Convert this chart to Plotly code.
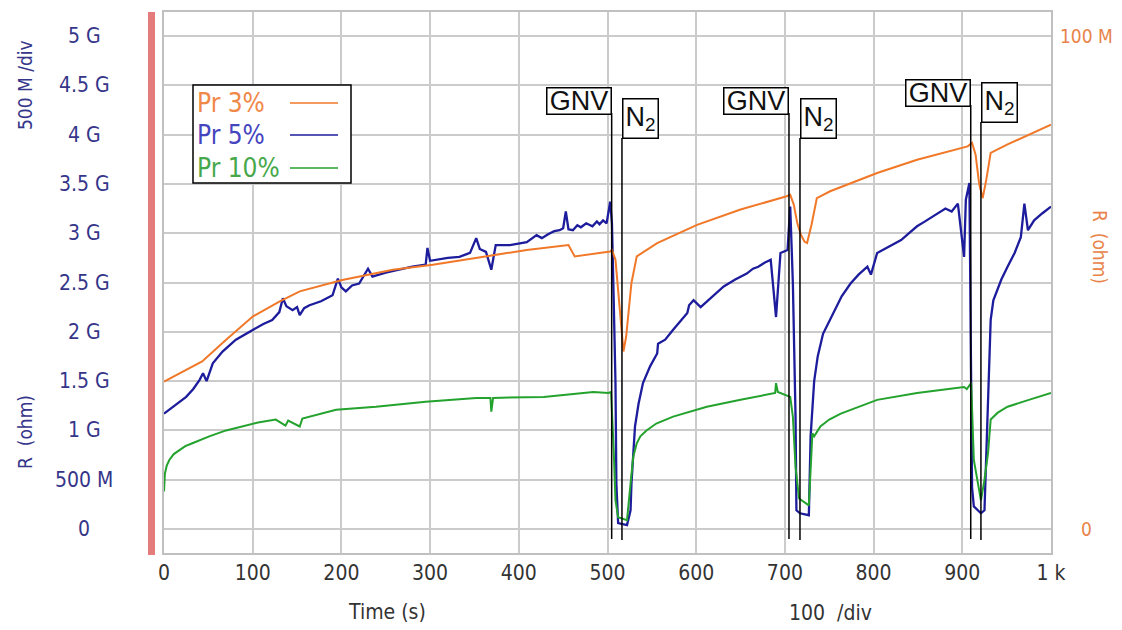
import plotly.graph_objects as go

# ---------------- data ----------------
# Pr 3% (right axis, M ohm)
t_pr3 = [0, 20, 43, 70, 100, 130, 153, 201, 258, 303, 371, 409, 456, 463, 503, 505, 509, 513,
         516, 518, 521, 527, 533, 556, 601, 650, 702, 706, 710, 714, 718, 722, 725, 730, 736,
         751, 804, 849, 906, 911, 915, 919, 923, 927, 932, 951, 1000]
r_pr3 = [29.9, 31.8, 34.0, 38.4, 43.1, 46.1, 48.2, 50.5, 52.6, 53.6, 55.6, 56.6, 57.6, 55.3,
         56.3, 56.6, 54.6, 46.5, 39.0, 36.0, 39.0, 49.9, 55.3, 58.0, 61.7, 64.8, 67.5, 67.8,
         65.8, 62.0, 59.7, 58.3, 58.0, 61.7, 67.1, 68.5, 72.2, 74.9, 77.6, 78.3, 75.9, 70.0,
         67.1, 70.8, 76.3, 78.0, 82.0]

# Pr 5% (left axis, G ohm)
t_pr5 = [0, 12, 25, 33, 40, 44, 48, 55, 66, 81, 100, 112, 122, 130, 134, 138, 145, 150,
         153, 158, 164, 177, 190, 196, 200, 205, 212, 220, 230, 235, 250, 265, 280, 295,
         297, 300, 307, 320, 333, 345, 352, 356, 363, 369, 374, 390, 409, 415, 420, 426,
         433, 440, 446, 450, 453, 456, 461, 466, 470, 476, 483, 488, 491, 495, 499, 503,
         505, 507, 509, 510, 512, 522, 526, 527, 529, 531, 535, 540, 548, 556, 557, 565,
         574, 582, 590, 592, 597, 605, 618, 631, 644, 657, 664, 670, 677, 684, 690, 695,
         703, 706, 709, 712, 713, 717, 727, 729, 733, 737, 743, 755, 764, 774, 783, 793,
         797, 804, 818, 831, 840, 849, 858, 868, 881, 888, 895, 902, 904, 908, 911, 913,
         921, 925, 927, 929, 932, 935, 944, 951, 959, 966, 970, 974, 981, 990, 1000]
r_pr5 = [1.17, 1.25, 1.34, 1.42, 1.51, 1.58, 1.50, 1.68, 1.80, 1.92, 2.02, 2.08, 2.12,
         2.20, 2.34, 2.26, 2.22, 2.25, 2.17, 2.24, 2.27, 2.31, 2.37, 2.54, 2.45, 2.41, 2.47,
         2.49, 2.64, 2.56, 2.60, 2.63, 2.66, 2.68, 2.85, 2.72, 2.73, 2.75, 2.76, 2.80, 2.95,
         2.84, 2.81, 2.63, 2.88, 2.88, 2.91, 2.95, 2.98, 2.95, 2.99, 3.02, 3.03, 3.05, 3.22,
         3.04, 3.03, 3.08, 3.06, 3.10, 3.07, 3.12, 3.09, 3.13, 3.10, 3.32, 3.10, 2.32, 1.48,
         0.46, 0.06, 0.04, 0.19, 0.46, 0.80, 1.04, 1.27, 1.48, 1.65, 1.78, 1.88, 1.92, 2.02,
         2.10, 2.19, 2.27, 2.32, 2.25, 2.36, 2.46, 2.53, 2.59, 2.64, 2.66, 2.70, 2.73, 2.15,
         2.80, 2.83, 3.27, 2.49, 1.14, 0.19, 0.16, 0.14, 0.94, 1.50, 1.75, 1.98, 2.19, 2.36,
         2.49, 2.58, 2.66, 2.58, 2.80, 2.87, 2.93, 3.00, 3.07, 3.12, 3.18, 3.25, 3.22, 3.30,
         2.76, 3.34, 3.51, 0.42, 0.23, 0.16, 0.19, 0.77, 1.38, 2.12, 2.32, 2.53, 2.66, 2.80,
         2.96, 3.30, 3.03, 3.13, 3.20, 3.27]

# Pr 10% (left axis, G ohm)
t_pr10 = [0, 1, 3, 6, 11, 17, 24, 32, 51, 70, 88, 106, 126, 137, 140, 153, 156, 164, 194,
          239, 295, 352, 368, 369, 371, 428, 484, 501, 504, 507, 509, 512, 522, 526, 529,
          533, 537, 544, 555, 574, 612, 650, 689, 690, 692, 706, 709, 712, 716, 727, 731,
          733, 740, 750, 763, 804, 849, 902, 905, 910, 911, 913, 921, 925, 929, 932, 940,
          951, 975, 1000]
r_pr10 = [0.38, 0.56, 0.64, 0.70, 0.76, 0.80, 0.84, 0.87, 0.94, 1.00, 1.04, 1.08, 1.11,
          1.05, 1.10, 1.04, 1.12, 1.14, 1.21, 1.24, 1.29, 1.33, 1.33, 1.19, 1.33, 1.34,
          1.39, 1.38, 1.39, 0.80, 0.29, 0.12, 0.09, 0.46, 0.73, 0.87, 0.94, 1.00, 1.07,
          1.14, 1.24, 1.31, 1.38, 1.48, 1.39, 1.34, 1.14, 0.63, 0.31, 0.24, 0.97, 0.94,
          1.04, 1.11, 1.17, 1.31, 1.38, 1.44, 1.42, 1.48, 1.17, 0.70, 0.29, 0.50, 0.77,
          1.11, 1.18, 1.24, 1.31, 1.38]

series_names = ["Pr 3%", "Pr 5%", "Pr 10%"]

x_ticks = [0, 100, 200, 300, 400, 500, 600, 700, 800, 900, 1000]
x_tick_text = ["0", "100", "200", "300", "400", "500", "600", "700", "800", "900", "1 k"]
y_ticks = [0, 0.5, 1, 1.5, 2, 2.5, 3, 3.5, 4, 4.5, 5]
y_tick_text = ["0", "500 M", "1 G", "1.5 G", "2 G", "2.5 G", "3 G", "3.5 G", "4 G", "4.5 G", "5 G"]
y2_ticks = [0, 100]
y2_tick_text = ["0", "100 M"]

gnv_times = [504.7, 704.6, 909.5]
n2_times = [516.3, 717.0, 921.0]

# ---------------- style ----------------
C_OR = "#F07828"
C_BL = "#1C1C9C"
C_GR = "#24A22E"
NARROW = "Liberation Sans Narrow, DejaVu Sans Condensed, Arial Narrow, Liberation Sans, sans-serif"
SANS = "Liberation Sans, Arial, sans-serif"
AX_BLUE = "#35358A"
AX_ORANGE = "#E8844A"

# page geometry (browser adds an 8px body margin)
OFF = 8
PW, PH = 1122, 630
PL, PR_, PT, PB = 164, 1051, 12, 553        # plot area in page pixels
W, H = PW - OFF, PH - OFF
pw = PR_ - PL
ph = PB - PT


def px_x(p):
    return (p - PL) / pw


def px_y(p):
    return (PB - p) / ph


fig = go.Figure()
fig.add_trace(go.Scatter(x=t_pr3, y=r_pr3, yaxis="y2", mode="lines", name=series_names[0],
                         line=dict(color=C_OR, width=2)))
fig.add_trace(go.Scatter(x=t_pr5, y=r_pr5, mode="lines", name=series_names[1],
                         line=dict(color=C_BL, width=2.3)))
fig.add_trace(go.Scatter(x=t_pr10, y=r_pr10, mode="lines", name=series_names[2],
                         line=dict(color=C_GR, width=2)))

grid = "#cbcbcb"
fig.update_layout(
    width=W, height=H,
    margin=dict(l=PL - OFF, r=PW - PR_, t=PT - OFF, b=PH - PB, autoexpand=False),
    paper_bgcolor="white", plot_bgcolor="white",
    showlegend=False,
    xaxis=dict(range=[0, 1000], tickvals=x_ticks, ticktext=x_tick_text,
               showgrid=True, gridcolor=grid, gridwidth=1.5, zeroline=False,
               showline=True, mirror=True, linecolor="#c0c0c0", linewidth=1.5,
               ticks="", tickfont=dict(family=NARROW, size=21, color="#333333")),
    yaxis=dict(range=[-0.243, 5.243], tickvals=y_ticks, showticklabels=False,
               showgrid=True, gridcolor=grid, gridwidth=1.5, zeroline=False,
               showline=True, mirror=True, linecolor="#c0c0c0", linewidth=1.5, ticks=""),
    yaxis2=dict(range=[-4.86, 104.86], overlaying="y", side="right", showgrid=False,
                zeroline=False, showticklabels=False, ticks=""),
)

ann = []
C = dict(xanchor="center", yanchor="middle", showarrow=False)
# left tick labels
for v, s in zip(y_ticks, y_tick_text):
    ann.append(dict(xref="paper", yref="y", x=px_x(84), y=v, text=s,
                    font=dict(family=NARROW, size=21, color=AX_BLUE), **C))
# right tick labels
for v, s in zip(y2_ticks, y2_tick_text):
    ann.append(dict(xref="paper", yref="y2", x=px_x(1086), y=v, text=s,
                    font=dict(family=NARROW, size=19, color=AX_ORANGE), **C))
# axis titles
ann.append(dict(xref="paper", yref="paper", x=px_x(25), y=px_y(85), text="500 M /div",
                textangle=-90, font=dict(family=NARROW, size=19, color=AX_BLUE), **C))
ann.append(dict(xref="paper", yref="paper", x=px_x(25), y=px_y(432), text="R  (ohm)",
                textangle=-90, font=dict(family=NARROW, size=19, color=AX_BLUE), **C))
ann.append(dict(xref="paper", yref="paper", x=px_x(1100), y=px_y(247), text="R  (ohm)",
                textangle=90, font=dict(family=NARROW, size=19, color=AX_ORANGE), **C))
ann.append(dict(xref="paper", yref="paper", x=px_x(387), y=px_y(612), text="Time (s)",
                font=dict(family=NARROW, size=21, color="#333333"), **C))
ann.append(dict(xref="paper", yref="paper", x=px_x(830), y=px_y(613), text="100  /div",
                font=dict(family=NARROW, size=21, color="#333333"), **C))

# legend (custom)
leg_text_col = ["#F08848", "#4545BF", "#46A84A"]
leg_line_col = [C_OR, C_BL, C_GR]
leg_y = [103, 135, 168]
shapes = []
shapes.append(dict(type="rect", xref="paper", yref="paper", x0=px_x(193), x1=px_x(351),
                   y0=px_y(85), y1=px_y(183), line=dict(color="black", width=1.5),
                   fillcolor="white", layer="above"))
for name, tc, lc, yy in zip(series_names, leg_text_col, leg_line_col, leg_y):
    ann.append(dict(xref="paper", yref="paper", x=px_x(195), y=px_y(yy), text=name,
                    xanchor="left", yanchor="middle", showarrow=False,
                    font=dict(family=NARROW, size=26, color=tc)))
    shapes.append(dict(type="line", xref="paper", yref="paper", x0=px_x(290), x1=px_x(338),
                       y0=px_y(yy), y1=px_y(yy), line=dict(color=lc, width=1.5), layer="above"))

# red bar on left
shapes.append(dict(type="rect", xref="paper", yref="paper", x0=px_x(148), x1=px_x(155),
                   y0=px_y(555), y1=px_y(12), line=dict(width=0), fillcolor="#E47C7C",
                   layer="above"))

# GNV / N2 markers
gnv_top = [87, 87, 79]
n2_top = [98, 98, 82]
for tg, tn, gt, nt in zip(gnv_times, n2_times, gnv_top, n2_top):
    shapes.append(dict(type="line", xref="x", yref="paper", x0=tg, x1=tg,
                       y0=px_y(539), y1=px_y(gt + 26), line=dict(color="black", width=1.5),
                       layer="above"))
    shapes.append(dict(type="line", xref="x", yref="paper", x0=tn, x1=tn,
                       y0=px_y(540), y1=px_y(nt + 40), line=dict(color="black", width=1.5),
                       layer="above"))
    ann.append(dict(xref="x", yref="paper", x=tg, y=px_y(gt), text="GNV", showarrow=False,
                    xanchor="right", yanchor="top", width=63, height=25,
                    bordercolor="black", borderwidth=1.5, borderpad=0, bgcolor="white",
                    font=dict(family=SANS, size=27, color="#111111")))
    ann.append(dict(xref="x", yref="paper", x=tn, y=px_y(nt), text="N<sub>2</sub>",
                    showarrow=False, xanchor="left", yanchor="top", width=34, height=38,
                    bordercolor="black", borderwidth=1.5, borderpad=0, bgcolor="white",
                    font=dict(family=SANS, size=27, color="#111111")))

fig.update_layout(annotations=ann, shapes=shapes)
fig.write_html("out.html")
